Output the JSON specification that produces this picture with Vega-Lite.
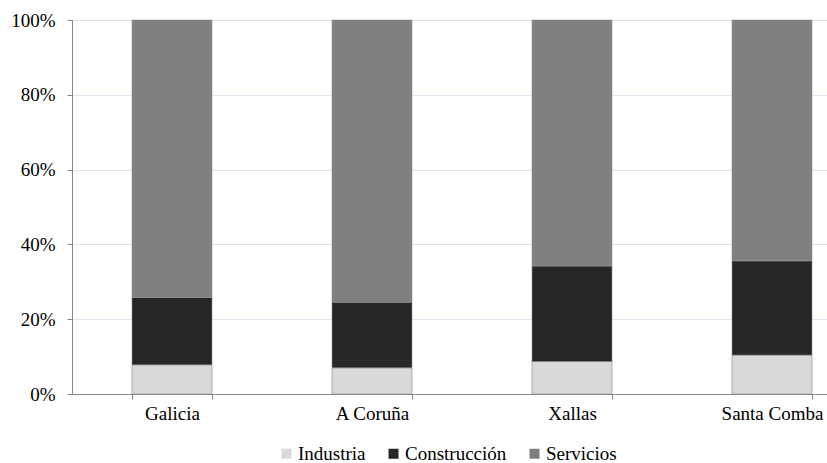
{
  "$schema": "https://vega.github.io/schema/vega-lite/v6.json",
  "autosize": {"type": "none"},
  "padding": {"left": 72, "top": 20, "right": 0, "bottom": 69},
  "width": 800,
  "height": 374,
  "background": "white",
  "data": {
    "values": [
      {"zona": "Galicia", "sector": "Industria", "orden": 1, "valor": 7.8},
      {"zona": "Galicia", "sector": "Construcción", "orden": 2, "valor": 18.0},
      {"zona": "Galicia", "sector": "Servicios", "orden": 3, "valor": 74.2},
      {"zona": "A Coruña", "sector": "Industria", "orden": 1, "valor": 7.0},
      {"zona": "A Coruña", "sector": "Construcción", "orden": 2, "valor": 17.5},
      {"zona": "A Coruña", "sector": "Servicios", "orden": 3, "valor": 75.5},
      {"zona": "Xallas", "sector": "Industria", "orden": 1, "valor": 8.7},
      {"zona": "Xallas", "sector": "Construcción", "orden": 2, "valor": 25.5},
      {"zona": "Xallas", "sector": "Servicios", "orden": 3, "valor": 65.8},
      {"zona": "Santa Comba", "sector": "Industria", "orden": 1, "valor": 10.4},
      {"zona": "Santa Comba", "sector": "Construcción", "orden": 2, "valor": 25.2},
      {"zona": "Santa Comba", "sector": "Servicios", "orden": 3, "valor": 64.4}
    ]
  },
  "mark": {"type": "bar", "stroke": "#8a8a8a", "strokeWidth": 0.6},
  "encoding": {
    "x": {
      "field": "zona",
      "type": "nominal",
      "sort": ["Galicia", "A Coruña", "Xallas", "Santa Comba"],
      "scale": {"paddingInner": 0.6, "paddingOuter": 0.3},
      "axis": {
        "title": null,
        "labelAngle": 0,
        "labelFont": "Liberation Serif",
        "labelFontSize": 19,
        "labelColor": "#000000",
        "labelPadding": 5,
        "tickBand": "extent",
        "tickSize": 5,
        "tickColor": "#868686",
        "domainColor": "#868686",
        "grid": false
      }
    },
    "y": {
      "field": "valor",
      "type": "quantitative",
      "stack": "normalize",
      "scale": {"domain": [0, 1], "nice": false},
      "axis": {
        "title": null,
        "values": [0, 0.2, 0.4, 0.6, 0.8, 1],
        "format": ".0%",
        "labelFont": "Liberation Serif",
        "labelFontSize": 19,
        "labelColor": "#000000",
        "labelPadding": 12,
        "tickSize": 5,
        "tickColor": "#868686",
        "domainColor": "#868686",
        "grid": true,
        "gridColor": "#dce6f0",
        "gridWidth": 1
      }
    },
    "color": {
      "field": "sector",
      "type": "nominal",
      "scale": {
        "domain": ["Industria", "Construcción", "Servicios"],
        "range": ["#d9d9d9", "#262626", "#7f7f7f"]
      },
      "legend": {
        "title": null,
        "orient": "none",
        "direction": "horizontal",
        "legendX": 205,
        "legendY": 424,
        "symbolType": "square",
        "symbolSize": 100,
        "symbolStrokeWidth": 0,
        "labelFont": "Liberation Serif",
        "labelFontSize": 19,
        "labelColor": "#000000",
        "labelOffset": 2,
        "columnPadding": 18
      }
    },
    "order": {"field": "orden", "type": "quantitative"}
  },
  "config": {
    "view": {"stroke": null}
  }
}
